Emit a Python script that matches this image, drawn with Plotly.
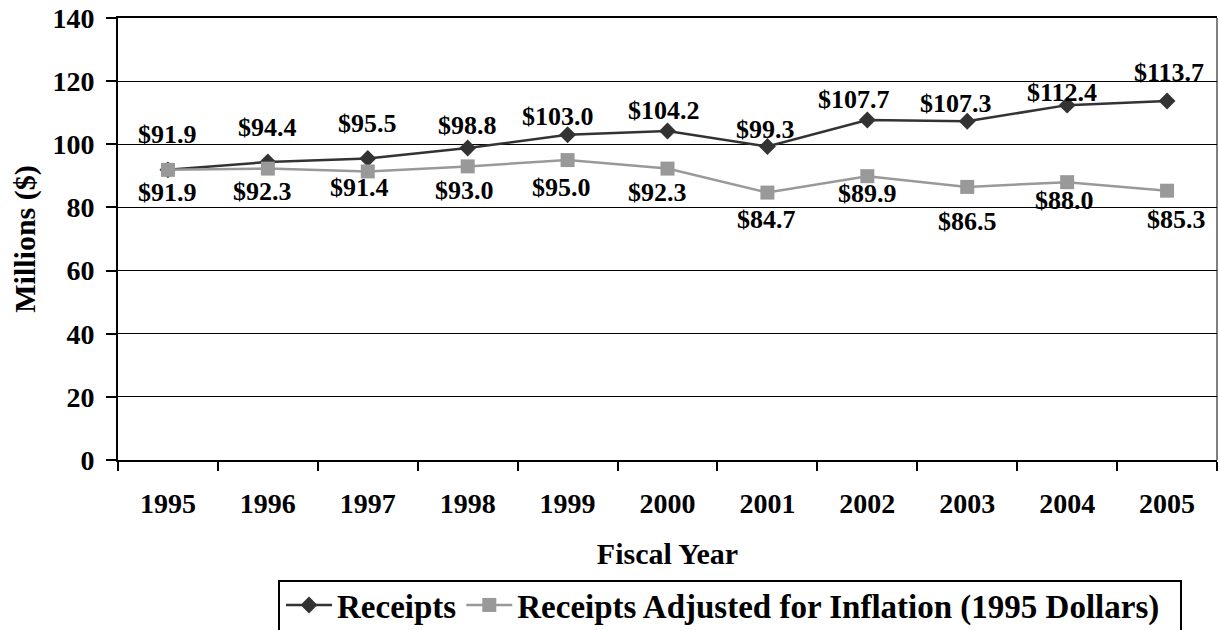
import plotly.graph_objects as go

years = ["1995", "1996", "1997", "1998", "1999", "2000", "2001", "2002", "2003", "2004", "2005"]
receipts = [91.9, 94.4, 95.5, 98.8, 103.0, 104.2, 99.3, 107.7, 107.3, 112.4, 113.7]
adjusted = [91.9, 92.3, 91.4, 93.0, 95.0, 92.3, 84.7, 89.9, 86.5, 88.0, 85.3]
y_ticks = [0, 20, 40, 60, 80, 100, 120, 140]

# label offsets in pixels (dx, dy upwards)
rec_off = [(0, 35), (0, 34), (0, 35), (0, 23), (-10, 18), (-4, 21), (-2, 17), (-13, 20), (-11, 18), (-5, 13), (2, 29)]
adj_off = [(0, -23), (-5, -23), (-8, -16), (-3, -24), (-6, -27), (-10, -24), (-1, -27), (0, -17), (0, -35), (-3, -18), (9, -29)]

FONT = "Liberation Serif"
def bf(size):
    return dict(family=FONT, size=size, color="black", weight="bold")

fig = go.Figure()
fig.add_trace(go.Scatter(
    x=years, y=receipts, name="Receipts", mode="lines+markers",
    line=dict(color="#333333", width=2.5),
    marker=dict(symbol="diamond", size=13, color="#333333"),
))
fig.add_trace(go.Scatter(
    x=years, y=adjusted, name="Receipts Adjusted for Inflation (1995 Dollars)", mode="lines+markers",
    line=dict(color="#999999", width=2.5),
    marker=dict(symbol="square", size=14, color="#999999"),
))

annotations = []
for i, (v, (dx, dy)) in enumerate(zip(receipts, rec_off)):
    annotations.append(dict(x=i, y=v, text=f"${v:.1f}", showarrow=False, xshift=dx, yshift=dy,
                            font=bf(26)))
for i, (v, (dx, dy)) in enumerate(zip(adjusted, adj_off)):
    annotations.append(dict(x=i, y=v, text=f"${v:.1f}", showarrow=False, xshift=dx, yshift=dy,
                            font=bf(26)))

plot_w = 1219 - 118 - 2
plot_h = 460 - 18
def px_x(p):
    return (p - 118) / plot_w
def px_y(p):
    return (460 - p) / plot_h

fig.update_layout(
    width=1219, height=630,
    margin=dict(l=118, r=2, t=18, b=170, autoexpand=False),
    paper_bgcolor="white", plot_bgcolor="white",
    font=bf(26),
    showlegend=True,
    legend=dict(orientation="h", x=px_x(281), y=px_y(577), xanchor="left", yanchor="top",
                font=bf(33), bgcolor="rgba(0,0,0,0)",
                borderwidth=0, itemwidth=46, tracegroupgap=0),
    annotations=annotations,
    shapes=[
        dict(type="rect", xref="paper", yref="paper", x0=px_x(279), x1=px_x(1181), y0=px_y(581), y1=px_y(660),
             line=dict(color="black", width=2), fillcolor="rgba(0,0,0,0)"),
        dict(type="line", xref="paper", yref="paper", x0=1, x1=1, y0=0, y1=1,
             line=dict(color="black", width=1)),
    ],
    xaxis=dict(
        type="category", categoryorder="array", categoryarray=years,
        range=[-0.5, len(years) - 0.5], autorange=False,
        tickson="boundaries", ticks="outside", ticklen=9, tickwidth=2, tickcolor="black",
        showline=True, linecolor="black", linewidth=2, mirror=True,
        showgrid=False, ticklabelstandoff=17, automargin=False, tickangle=0,
        tickfont=bf(28),
        title=dict(text="Fiscal Year", standoff=25, font=bf(30)),
    ),
    yaxis=dict(
        range=[0, 140], tickvals=y_ticks, automargin=False,
        ticks="outside", ticklen=10, tickwidth=2, tickcolor="black",
        showline=True, linecolor="black", linewidth=2,
        showgrid=True, gridcolor="black", gridwidth=1, zeroline=False,
        tickfont=bf(28), ticklabelstandoff=6, ticklabeloverflow="allow",
        title=dict(text="Millions ($)", standoff=8, font=bf(30)),
    ),
)

fig.write_html("out.html", config={"displayModeBar": False},
               post_script="document.body.style.margin='0';")
